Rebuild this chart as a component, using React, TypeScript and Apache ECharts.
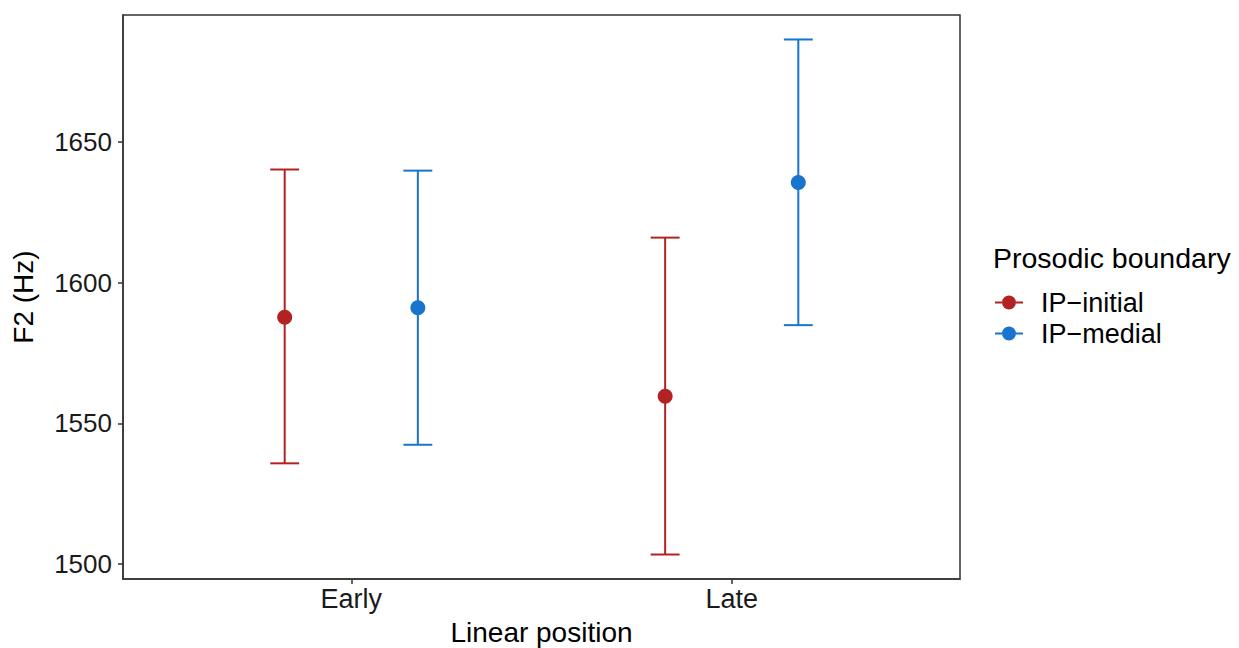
import React, { useEffect, useRef } from "react";
import * as echarts from "echarts";

const categories = ["Early", "Late"];
const yTicks = [1500, 1550, 1600, 1650];
const groups = ["IP−initial", "IP−medial"];
const colors = ["#B22222", "#1874CD"];
const initialMean = [1587.7, 1559.6];
const initialLower = [1535.8, 1503.4];
const initialUpper = [1640.2, 1616.0];
const medialMean = [1591.1, 1635.6];
const medialLower = [1542.4, 1584.9];
const medialUpper = [1639.8, 1686.4];

const dodge = 0.175;
const capHalf = 0.038;

export default function App() {
  const ref = useRef<HTMLDivElement>(null);
  useEffect(() => {
    if (!ref.current) return;
    const chart = echarts.init(ref.current, null, { renderer: "svg" });
    const font = "'Liberation Sans', Arial, Helvetica, sans-serif";
    const groupData = [
      { mean: initialMean, lower: initialLower, upper: initialUpper, off: -dodge },
      { mean: medialMean, lower: medialLower, upper: medialUpper, off: dodge },
    ];
    const legendIcon =
      "path://M0,6h7v2h-7z M21,6h7v2h-7z M7,7a7,7 0 1,0 14,0a7,7 0 1,0 -14,0z";
    const series: any[] = [];
    groupData.forEach((g, gi) => {
      series.push({
        type: "custom",
        name: groups[gi] + "_err",
        silent: true,
        z: 2,
        data: categories.map((_, i) => [i + 1 + g.off, g.lower[i], g.upper[i]]),
        renderItem: (params: any, api: any) => {
          const x = api.value(0);
          const lo = api.coord([x, api.value(1)]);
          const hi = api.coord([x, api.value(2)]);
          const l = api.coord([x - capHalf, api.value(1)]);
          const r = api.coord([x + capHalf, api.value(1)]);
          const style = { stroke: colors[gi], lineWidth: 2, fill: "none" };
          return {
            type: "group",
            children: [
              { type: "line", shape: { x1: lo[0], y1: lo[1], x2: hi[0], y2: hi[1] }, style },
              { type: "line", shape: { x1: l[0], y1: lo[1], x2: r[0], y2: lo[1] }, style },
              { type: "line", shape: { x1: l[0], y1: hi[1], x2: r[0], y2: hi[1] }, style },
            ],
          };
        },
      });
      series.push({
        type: "scatter",
        name: groups[gi],
        z: 3,
        symbol: "circle",
        symbolSize: 15,
        itemStyle: { color: colors[gi], opacity: 1 },
        data: categories.map((_, i) => [i + 1 + g.off, g.mean[i]]),
      });
    });
    chart.setOption({
      animation: false,
      backgroundColor: "#ffffff",
      textStyle: { fontFamily: font },
      title: {
        text: "Prosodic boundary",
        left: 988,
        top: 238,
        textStyle: { fontFamily: font, fontSize: 28.5, fontWeight: "normal", color: "#000" },
      },
      legend: {
        orient: "vertical",
        left: 990,
        top: 284,
        itemWidth: 28,
        itemHeight: 14,
        itemGap: 4,
        data: groups.map((n, i) => ({ name: n, icon: legendIcon, itemStyle: { color: colors[i] } })),
        textStyle: { fontFamily: font, fontSize: 27, color: "#000", padding: [0, 0, 0, 13] },
      },
      grid: {
        left: 123,
        right: 279,
        top: 15,
        bottom: 69,
        show: true,
        borderColor: "#333333",
        borderWidth: 1.5,
        backgroundColor: "transparent",
        containLabel: false,
        outerBoundsMode: "none",
      },
      xAxis: {
        type: "value",
        min: 0.4,
        max: 2.6,
        name: "Linear position",
        nameLocation: "middle",
        nameGap: 39,
        nameTextStyle: { fontFamily: font, fontSize: 28, color: "#000" },
        splitLine: { show: false },
        axisLine: { show: true, lineStyle: { color: "#333333", width: 1.5 } },
        axisTick: { show: true, length: 5, customValues: [1, 2], lineStyle: { color: "#333333", width: 1.5 } },
        axisLabel: {
          customValues: [1, 2],
          formatter: (v: number) => categories[Math.round(v) - 1] ?? "",
          fontFamily: font,
          fontSize: 27,
          color: "#1a1a1a",
          margin: 6,
        },
      },
      yAxis: {
        type: "value",
        min: 1494.7,
        max: 1695.1,
        name: "F2 (Hz)",
        nameLocation: "middle",
        nameGap: 86,
        nameTextStyle: { fontFamily: font, fontSize: 28, color: "#000" },
        splitLine: { show: false },
        axisLine: { show: true, lineStyle: { color: "#333333", width: 1.5 } },
        axisTick: { show: true, length: 5, customValues: yTicks, lineStyle: { color: "#333333", width: 1.5 } },
        axisLabel: {
          customValues: yTicks,
          formatter: (v: number) => String(v),
          fontFamily: font,
          fontSize: 26,
          color: "#1a1a1a",
          margin: 11,
        },
      },
      series,
    });
    return () => chart.dispose();
  }, []);
  return <div ref={ref} style={{ width: 1239, height: 648, position: "absolute", left: 0, top: 0 }} />;
}
